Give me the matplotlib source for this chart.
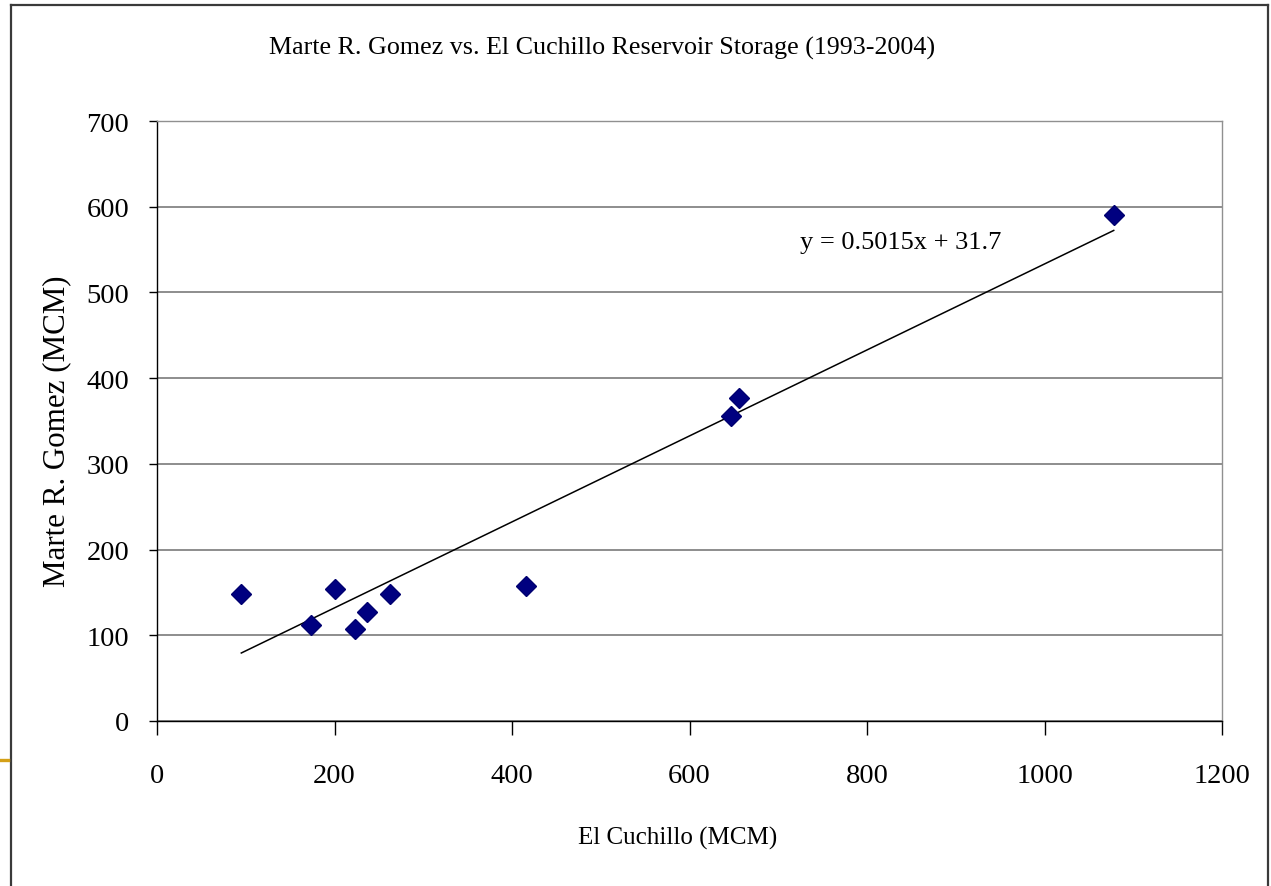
import matplotlib
matplotlib.use("Agg")
import numpy as np
import matplotlib.pyplot as plt
from matplotlib.lines import Line2D

# storage pairs (MCM)
el_cuchillo = [95, 173, 201, 223, 237, 262, 416, 647, 656, 1078]
marte_gomez = [148, 112, 154, 107, 127, 148, 158, 356, 377, 590]

# Excel linear trendline as printed on the chart
slope, intercept = 0.5015, 31.7
eq_label = "y = 0.5015x + 31.7"

x_ticks = [0, 200, 400, 600, 800, 1000, 1200]
y_ticks = [0, 100, 200, 300, 400, 500, 600, 700]

title = "Marte R. Gomez vs. El Cuchillo Reservoir Storage (1993-2004)"
xlabel = "El Cuchillo (MCM)"
ylabel = "Marte R. Gomez (MCM)"

W, H = 1271, 887
plt.rcParams["font.family"] = ["Liberation Serif", "DejaVu Serif"]

fig = plt.figure(figsize=(W / 100, H / 100), dpi=100)
ax = fig.add_axes([157 / W, 1 - 722 / H, (1222 - 157) / W, (722 - 122) / H])

ax.set_xlim(0, 1200)
ax.set_ylim(0, 700)
ax.set_xticks(x_ticks)
ax.set_yticks(y_ticks)
ax.set_xticklabels([str(t) for t in x_ticks], fontsize=20.5)
ax.set_yticklabels([str(t) for t in y_ticks], fontsize=20.5)
ax.tick_params(axis="x", length=10, width=1, direction="out", pad=20, color="black")
ax.tick_params(axis="y", length=6, width=1, direction="out", pad=14, color="black")

ax.yaxis.grid(True, color="#7a7a7a", linewidth=1.2)
ax.set_axisbelow(True)
for s in ("top", "right"):
    ax.spines[s].set_color("#909090")
    ax.spines[s].set_linewidth(1.0)
for s in ("left", "bottom"):
    ax.spines[s].set_color("black")
    ax.spines[s].set_linewidth(1.0)

xs = np.array([min(el_cuchillo), max(el_cuchillo)])
ax.plot(xs, slope * xs + intercept, color="black", linewidth=1.1, zorder=2)
ax.plot(el_cuchillo, marte_gomez, linestyle="none", marker="D", markersize=10,
        color="#000080", markeredgecolor="#000070", zorder=3)

ax.text(725, 559, eq_label, fontsize=19, ha="left", va="center")

fig.text(602 / W, 1 - 48 / H, title, fontsize=18.7, ha="center", va="center")
fig.text(678 / W, 1 - 838 / H, xlabel, fontsize=18, ha="center", va="center")
fig.text(57 / W, 1 - 431 / H, ylabel, fontsize=22.3, ha="center", va="center", rotation=90)

# slide frame around the chart and the bit of slide decoration at the left
fig.add_artist(Line2D([11 / W, 11 / W], [0, 1 - 5.5 / H], transform=fig.transFigure,
                      color="#3a3a3a", linewidth=1.6))
fig.add_artist(Line2D([1268 / W, 1268 / W], [0, 1 - 5.5 / H], transform=fig.transFigure,
                      color="#3a3a3a", linewidth=1.6))
fig.add_artist(Line2D([11 / W, 1268 / W], [1 - 5.5 / H, 1 - 5.5 / H], transform=fig.transFigure,
                      color="#3a3a3a", linewidth=1.6))
fig.add_artist(Line2D([0, 8 / W], [1 - 761 / H, 1 - 761 / H], transform=fig.transFigure,
                      color="#d4a017", linewidth=2.4))

fig.savefig("out.png", dpi=100)
